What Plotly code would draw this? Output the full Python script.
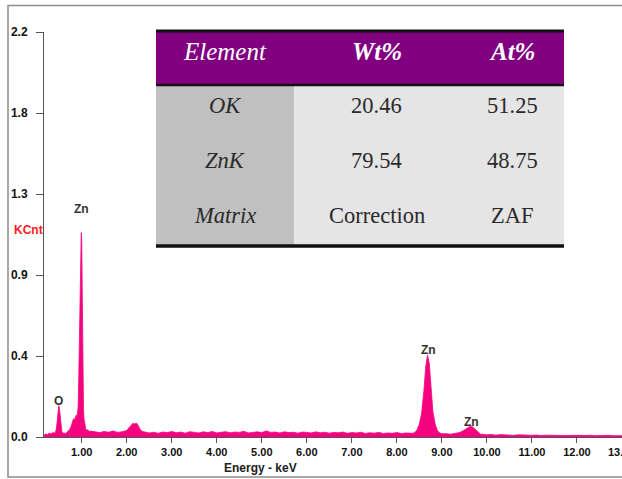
import plotly.graph_objects as go

# ---------------- data ----------------
energy_kev = [
    0.16, 0.20, 0.24, 0.28, 0.32, 0.36, 0.40, 0.43,
    0.45, 0.47, 0.48, 0.49, 0.50, 0.51, 0.52, 0.54, 0.56, 0.58,
    0.61, 0.64, 0.67, 0.70, 0.73, 0.76, 0.78,
    0.80, 0.82, 0.84, 0.86, 0.88, 0.90, 0.92, 0.93, 0.94, 0.95, 0.96, 0.97, 0.98, 0.99,
    1.00, 1.01, 1.02, 1.03, 1.04, 1.05, 1.07, 1.09, 1.11, 1.14, 1.17, 1.20,
    1.30, 1.40, 1.50, 1.60, 1.70, 1.80, 1.90, 2.00,
    2.05, 2.10, 2.14, 2.18, 2.22, 2.26, 2.30, 2.35,
    2.4, 2.5, 2.6, 2.7, 2.8, 2.9, 3.0, 3.1, 3.2, 3.3,
    3.4, 3.5, 3.6, 3.7, 3.8, 3.9, 4.0, 4.1, 4.2, 4.3,
    4.4, 4.5, 4.6, 4.7, 4.8, 4.9, 5.0, 5.1, 5.2, 5.3,
    5.4, 5.5, 5.6, 5.7, 5.8, 5.9, 6.0, 6.1, 6.2, 6.3,
    6.4, 6.5, 6.6, 6.7, 6.8, 6.9, 7.0, 7.1, 7.2, 7.3,
    7.4, 7.5, 7.6, 7.7, 7.8, 7.9, 8.0, 8.1, 8.2, 8.3,
    8.35, 8.40, 8.45, 8.50, 8.55, 8.60, 8.64, 8.68, 8.72, 8.76, 8.80, 8.85, 8.90, 8.95, 9.00,
    9.10, 9.20, 9.30, 9.40,
    9.48, 9.54, 9.60, 9.64, 9.68, 9.74, 9.80, 9.86,
    9.9, 10.0, 10.1, 10.2, 10.3, 10.4, 10.5, 10.6, 10.7, 10.8,
    10.9, 11.0, 11.1, 11.2, 11.3, 11.4, 11.5, 11.6, 11.7, 11.8,
    11.9, 12.0, 12.1, 12.2, 12.3, 12.4, 12.5, 12.6, 12.7, 12.8, 12.9, 13.0,
]
kcnt = [
    0.008, 0.018, 0.012, 0.022, 0.016, 0.024, 0.020, 0.035,
    0.07, 0.13, 0.15, 0.17, 0.165, 0.14, 0.10, 0.05, 0.03, 0.02,
    0.022, 0.018, 0.025, 0.030, 0.040, 0.055, 0.070,
    0.085, 0.10, 0.09, 0.115, 0.12, 0.11, 0.16, 0.25, 0.42, 0.44, 0.70, 0.72, 0.95, 1.11,
    1.08, 0.72, 0.45, 0.30, 0.16, 0.10, 0.06, 0.045, 0.035, 0.040, 0.030, 0.032,
    0.028, 0.024, 0.030, 0.026, 0.033, 0.025, 0.029, 0.035,
    0.050, 0.065, 0.075, 0.070, 0.075, 0.060, 0.040, 0.030,
    0.028, 0.022, 0.026, 0.020, 0.027, 0.024, 0.030, 0.023, 0.027, 0.021,
    0.029, 0.025, 0.022, 0.028, 0.024, 0.030, 0.022, 0.026, 0.029, 0.023,
    0.027, 0.025, 0.031, 0.022, 0.026, 0.028, 0.024, 0.033, 0.025, 0.027,
    0.022, 0.028, 0.024, 0.026, 0.021, 0.027, 0.025, 0.022, 0.028, 0.023,
    0.026, 0.021, 0.025, 0.023, 0.027, 0.020, 0.024, 0.022, 0.026, 0.019,
    0.023, 0.021, 0.025, 0.019, 0.022, 0.020, 0.024, 0.019, 0.022, 0.020,
    0.020, 0.025, 0.040, 0.070, 0.130, 0.250, 0.380, 0.445, 0.400, 0.270, 0.140, 0.070, 0.035, 0.022, 0.018,
    0.018, 0.015, 0.020, 0.025,
    0.035, 0.045, 0.055, 0.060, 0.055, 0.040, 0.025, 0.015,
    0.015, 0.012, 0.014, 0.010, 0.013, 0.011, 0.012, 0.009, 0.012, 0.010,
    0.011, 0.009, 0.011, 0.008, 0.010, 0.009, 0.011, 0.008, 0.010, 0.008,
    0.009, 0.007, 0.009, 0.008, 0.010, 0.007, 0.009, 0.008, 0.009, 0.007, 0.008, 0.007,
]

x_tick_vals = [1, 2, 3, 4, 5, 6, 7, 8, 9, 10, 11, 12, 13]
x_tick_text = ["1.00", "2.00", "3.00", "4.00", "5.00", "6.00", "7.00",
               "8.00", "9.00", "10.00", "11.00", "12.00", "13.00"]
y_tick_vals = [0.0, 0.44, 0.88, 1.32, 1.76, 2.2]
y_tick_text = ["0.0", "0.4", "0.9", "1.3", "1.8", "2.2"]

peak_labels = ["O", "Zn", "Zn", "Zn"]
peak_label_x = [0.48, 1.0, 8.71, 9.66]
peak_label_y = [0.196, 1.238, 0.473, 0.081]

table_header = ["Element", "Wt%", "At%"]
table_rows = [
    ["OK", "20.46", "51.25"],
    ["ZnK", "79.54", "48.75"],
    ["Matrix", "Correction", "ZAF"],
]

# ---------------- layout helpers (pixel -> paper) ----------------
W, H = 622, 479
ML, MR, MT, MB = 44, 0, 32, 42
PW, PH = W - ML - MR, H - MT - MB


def px(xp):
    return (xp - ML) / PW


def py(yp):
    return (H - MB - yp) / PH


PINK = "#F5037F"
SERIF = "Liberation Serif, Tinos, Times New Roman, DejaVu Serif, serif"
SANS = "Liberation Sans, Arimo, Arial, sans-serif"

fig = go.Figure()
fig.add_trace(go.Scatter(
    x=energy_kev, y=kcnt, mode="lines", fill="tozeroy",
    line=dict(color=PINK, width=0.8), fillcolor=PINK,
    hoverinfo="skip", showlegend=False,
))

shapes = []
annotations = []

# outer frame
shapes.append(dict(type="rect", xref="paper", yref="paper",
                   x0=px(8), x1=px(660), y0=py(477), y1=py(5.5),
                   line=dict(color="#8c8c8c", width=1.5), fillcolor="rgba(0,0,0,0)",
                   layer="below"))

# table backgrounds
tx0, tcol, tx1 = 156, 294, 564
ty_top, ty_head, ty_bot = 31, 85, 246
shapes.append(dict(type="rect", xref="paper", yref="paper",
                   x0=px(tx0), x1=px(tx1), y0=py(ty_head), y1=py(ty_top),
                   line=dict(width=0), fillcolor="#800080", layer="above"))
shapes.append(dict(type="rect", xref="paper", yref="paper",
                   x0=px(tx0), x1=px(tcol), y0=py(ty_bot), y1=py(ty_head),
                   line=dict(width=0), fillcolor="#C0C0C0", layer="above"))
shapes.append(dict(type="rect", xref="paper", yref="paper",
                   x0=px(tcol), x1=px(tx1), y0=py(ty_bot), y1=py(ty_head),
                   line=dict(width=0), fillcolor="#E5E5E5", layer="above"))
for yl, wdt in [(ty_top, 3), (ty_head, 2.5), (ty_bot, 3.5)]:
    shapes.append(dict(type="line", xref="paper", yref="paper",
                       x0=px(tx0), x1=px(tx1), y0=py(yl), y1=py(yl),
                       line=dict(color="#111111", width=wdt), layer="above"))

col_centers = [225, 377, 512]
header_y = 51
row_ys = [106, 160, 215]

for i, h in enumerate(table_header):
    txt = "<i>%s</i>" % h if i == 0 else "<b><i>%s</i></b>" % h
    annotations.append(dict(xref="paper", yref="paper", x=px(col_centers[i]), y=py(header_y),
                            text=txt, showarrow=False, xanchor="center", yanchor="middle",
                            font=dict(family=SERIF, size=25, color="white")))
for r, row in enumerate(table_rows):
    for c, val in enumerate(row):
        txt = "<i>%s</i>" % val if c == 0 else val
        annotations.append(dict(xref="paper", yref="paper", x=px(col_centers[c]), y=py(row_ys[r]),
                                text=txt, showarrow=False, xanchor="center", yanchor="middle",
                                font=dict(family=SERIF, size=22.5, color="#2a2a2a")))

# peak labels
for lbl, lx, ly in zip(peak_labels, peak_label_x, peak_label_y):
    annotations.append(dict(x=lx, y=ly, xref="x", yref="y", text="<b>%s</b>" % lbl,
                            showarrow=False, xanchor="center", yanchor="middle",
                            font=dict(family=SANS, size=12, color="#333333")))

# last x tick label sits on the page edge and is cut off there (as in the source image);
# drawn as an annotation so plotly does not shrink the plot to fit it
annotations.append(dict(x=x_tick_vals[-1], xref="x", yref="paper", y=py(452),
                        text="<b>%s</b>" % x_tick_text[-1], showarrow=False,
                        xanchor="center", yanchor="middle",
                        font=dict(family=SANS, size=11, color="#111111")))

# axis labels
annotations.append(dict(xref="paper", yref="paper", x=px(12), y=py(230), text="<b>KCnt</b>",
                        showarrow=False, xanchor="left", yanchor="middle",
                        font=dict(family=SANS, size=12, color="#FF1A1A")))
annotations.append(dict(xref="paper", yref="paper", x=px(260), y=py(468), text="<b>Energy - keV</b>",
                        showarrow=False, xanchor="center", yanchor="middle",
                        font=dict(family=SANS, size=12, color="#222222")))

fig.update_layout(
    width=W, height=H,
    margin=dict(l=ML, r=MR, t=MT, b=MB, pad=0),
    paper_bgcolor="white", plot_bgcolor="white",
    showlegend=False,
    shapes=shapes, annotations=annotations,
    xaxis=dict(range=[0.163, 13.0], showgrid=False, zeroline=False,
               showline=True, linecolor="#555555", linewidth=1,
               ticks="outside", ticklen=5, tickcolor="#555555",
               tickvals=x_tick_vals[:-1], ticktext=x_tick_text[:-1],
               tickfont=dict(family=SANS, size=11, color="#111111", weight="bold")),
    yaxis=dict(range=[0, 2.2], showgrid=False, zeroline=False,
               showline=True, linecolor="#555555", linewidth=1,
               ticks="outside", ticklen=7, tickcolor="#555555",
               tickvals=y_tick_vals, ticktext=y_tick_text, ticklabelstandoff=6,
               tickfont=dict(family=SANS, size=12, color="#111111", weight="bold")),
)

fig.write_html("out.html")
